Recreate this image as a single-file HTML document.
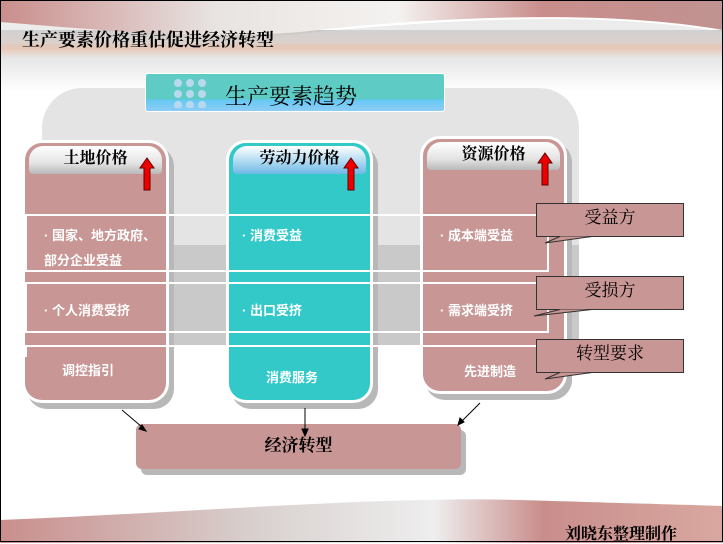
<!DOCTYPE html>
<html><head><meta charset="utf-8"><style>
*{margin:0;padding:0;box-sizing:border-box}
body{width:723px;height:543px;position:relative;overflow:hidden;background:#fff;font-family:"Liberation Serif","Noto Serif CJK SC","Noto Sans CJK SC",serif}
.a{position:absolute}
.col{position:absolute;border:3px solid #fff;border-radius:20px;box-shadow:5px 6px 0 #b8b8b8}
.hd{position:absolute;left:4px;right:4px;top:3px;height:28px;border-radius:14px 14px 4px 4px;background:linear-gradient(#fff,#e4e4e4 60%,#b9b9b9);font-weight:bold;font-size:16px;text-align:center;line-height:26px;color:#000}
.wt{position:absolute;color:#fff;font-family:"Liberation Sans","Noto Sans CJK SC",sans-serif;font-size:13px;font-weight:bold}
.row{position:absolute;left:25px;width:524px;border:2px solid #fff}
.arr{position:absolute;width:16px;height:34px}
.co{position:absolute;left:536px;width:148px;height:34px;background:#c89694;border:1px solid #333;font-size:17px;text-align:center;line-height:28px;color:#000}
</style></head><body>
<svg class="a" style="left:0;top:0" width="723" height="543">
<defs>
<linearGradient id="tg" x1="0" y1="0" x2="1" y2="0"><stop offset="0" stop-color="#c98e8c"/><stop offset=".3" stop-color="#e8e4e2"/><stop offset=".55" stop-color="#f4f2f0"/><stop offset=".75" stop-color="#c98e8c"/><stop offset="1" stop-color="#c09290"/></linearGradient>
<linearGradient id="gb" x1="0" y1="0" x2="0" y2="1"><stop offset="0" stop-color="#c9c9c9"/><stop offset=".3" stop-color="#e7c9b8"/><stop offset=".45" stop-color="#e6e6e6"/><stop offset="1" stop-color="#fff"/></linearGradient>
<linearGradient id="bg" x1="0" y1="0" x2="1" y2="0"><stop offset="0" stop-color="#c98e8c"/><stop offset=".35" stop-color="#d8d0ce"/><stop offset=".6" stop-color="#eeeeee"/><stop offset=".75" stop-color="#c98e8c"/><stop offset="1" stop-color="#d9a7a0"/></linearGradient>
</defs>
<rect x="0" y="30" width="723" height="62" fill="url(#gb)"/>
<path d="M0 0H723V30C600 8 420 18 300 32 200 40 100 30 0 22Z" fill="url(#tg)"/>
<path d="M0 22C100 30 200 42 300 34 430 20 600 10 723 32V44H0Z" fill="#d9d9d9" opacity=".5"/>
<rect x="42" y="88" width="537" height="258" rx="40" fill="#e4e4e4"/>
<rect x="42" y="245" width="537" height="101" fill="#c9c9c9"/>
<path d="M0 543V520C200 512 380 496 520 500 620 503 690 505 723 506V543Z" fill="url(#bg)"/>
<rect x="0.5" y="0.5" width="722" height="541" fill="none" stroke="#000"/>
</svg>
<div class="a" style="left:22px;top:26px;font-size:18px;font-weight:bold">生产要素价格重估促进经济转型</div>
<div class="a" style="left:145px;top:73px;width:300px;height:39px;border-radius:3px;border:1px solid #fff;background:linear-gradient(#5fcbc5 0,#5fcbc5 68%,#66c8f5 70%,#8ecdf5 100%)"></div>
<svg class="a" style="left:172px;top:78px" width="40" height="30"><g fill="#b8d8ee"><circle cx="6" cy="5" r="4"/><circle cx="18" cy="5" r="4"/><circle cx="30" cy="5" r="4"/><circle cx="6" cy="16" r="4"/><circle cx="18" cy="16" r="4"/><circle cx="30" cy="16" r="4"/><circle cx="6" cy="27" r="4"/><circle cx="18" cy="27" r="4"/><circle cx="30" cy="27" r="4"/></g></svg>
<div class="a" style="left:225px;top:80px;font-size:22px">生产要素趋势</div>

<div class="col" style="left:22px;top:140px;width:147px;height:263px;background:#c89694"><div class="hd">土地价格</div></div>
<div class="col" style="left:226px;top:140px;width:147px;height:263px;background:#33c9c9;border-color:#fff"><div class="hd" style="background:linear-gradient(#fff,#a8d6f0 60%,#6fb8e8)">劳动力价格</div></div>
<div class="col" style="left:420px;top:136px;width:147px;height:258px;background:#c89694"><div class="hd">资源价格</div></div>

<div class="row" style="top:214px;height:58px"></div>
<div class="row" style="top:282px;height:51px"></div>
<div class="row" style="top:345px;height:12px;border-bottom:none"></div>

<svg class="arr" style="left:139px;top:157px" viewBox="0 0 16 34"><path d="M8 1L15 11H11V33H5V11H1Z" fill="#e00" stroke="#600" stroke-width="1"/></svg>
<svg class="arr" style="left:343px;top:157px" viewBox="0 0 16 34"><path d="M8 1L15 11H11V33H5V11H1Z" fill="#e00" stroke="#600" stroke-width="1"/></svg>
<svg class="arr" style="left:537px;top:152px" viewBox="0 0 16 34"><path d="M8 1L15 11H11V33H5V11H1Z" fill="#e00" stroke="#600" stroke-width="1"/></svg>

<div class="wt" style="left:44px;top:225px">· 国家、地方政府、</div>
<div class="wt" style="left:44px;top:250px">部分企业受益</div>
<div class="wt" style="left:44px;top:300px">· 个人消费受挤</div>
<div class="wt" style="left:62px;top:360px">调控指引</div>
<div class="wt" style="left:242px;top:225px">· 消费受益</div>
<div class="wt" style="left:242px;top:300px">· 出口受挤</div>
<div class="wt" style="left:266px;top:367px">消费服务</div>
<div class="wt" style="left:440px;top:225px">· 成本端受益</div>
<div class="wt" style="left:440px;top:300px">· 需求端受挤</div>
<div class="wt" style="left:464px;top:361px">先进制造</div>

<div class="co" style="top:203px">受益方</div>
<div class="co" style="top:276px">受损方</div>
<div class="co" style="top:339px">转型要求</div>
<svg class="a" style="left:0;top:0" width="723" height="543"><g fill="#c89694" stroke="#333" stroke-width="1"><path d="M560 236.5L545 243L592 236.5"/><path d="M560 309.5L534 316L592 309.5"/><path d="M560 372.5L545 379L592 372.5"/></g><g fill="#c89694"><rect x="561" y="233" width="30" height="3"/><rect x="561" y="306" width="30" height="3"/><rect x="561" y="369" width="30" height="3"/></g></svg>

<div class="a" style="left:136px;top:424px;width:325px;height:45px;background:#c89694;border-radius:6px;box-shadow:5px 6px 0 #b8b8b8;font-size:17px;font-weight:bold;text-align:center;line-height:44px">经济转型</div>
<svg class="a" style="left:0;top:0" width="723" height="543"><g stroke="#000" stroke-width="1" fill="#000">
<line x1="122" y1="410" x2="142" y2="427"/><path d="M146 431l-7-2 3-4z"/>
<line x1="305" y1="408" x2="305" y2="430"/><path d="M305 436l-3-7h6z"/>
<line x1="480" y1="403" x2="462" y2="421"/><path d="M458 425l2-7 4 4z"/>
</g></svg>
<div class="a" style="left:565px;top:521px;font-size:16px;font-weight:bold">刘晓东整理制作</div>
</body></html>
